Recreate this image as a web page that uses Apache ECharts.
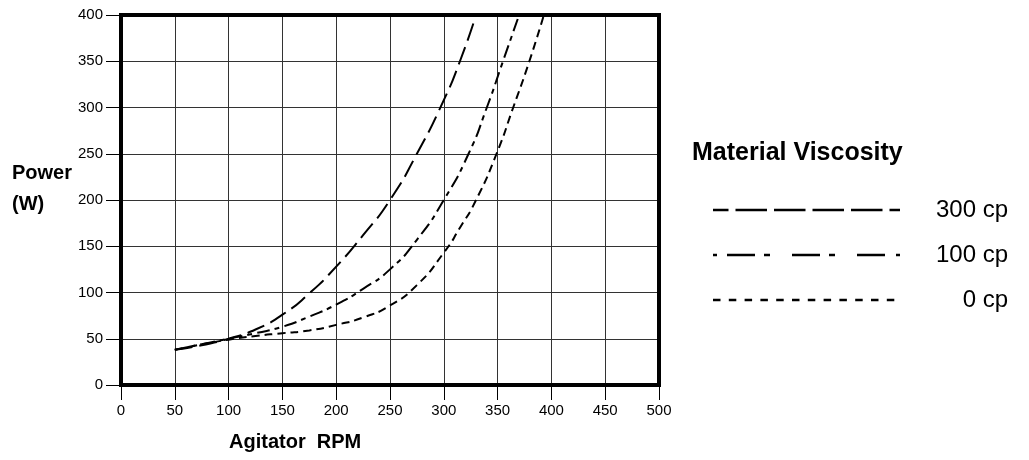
<!DOCTYPE html>
<html>
<head>
<meta charset="utf-8">
<script src="https://cdn.jsdelivr.net/npm/echarts@6/dist/echarts.min.js"></script>
<style>
html,body{margin:0;padding:0;background:#fff;}
#c{width:1029px;height:460px;}
</style>
</head>
<body>
<div id="c"></div>
<script>
// ---- data ----
const xTicks = [0, 50, 100, 150, 200, 250, 300, 350, 400, 450, 500];
const yTicks = [0, 50, 100, 150, 200, 250, 300, 350, 400];

const rpm300 = [50, 75, 100, 125, 150, 175, 200, 225, 250, 275, 300, 315, 330];
const pow300 = [38, 43, 50, 60, 76, 99, 128, 162, 200, 250, 308, 350, 400];

const rpm100 = [50, 75, 100, 125, 150, 175, 200, 225, 250, 275, 300, 323, 340, 355, 370];
const pow100 = [38, 44, 50, 56, 63, 74, 87, 104, 125, 157, 200, 250, 300, 350, 400];

const rpm0 = [50, 75, 100, 125, 150, 175, 200, 225, 250, 275, 300, 315, 330, 349, 364.5, 379.5, 393];
const pow0 = [38, 44, 49, 53, 56, 59, 65, 73, 86, 108, 143, 170, 200, 250, 300, 350, 400];

const seriesNames = ['300 cp', '100 cp', '0 cp'];
const legendTitle = 'Material Viscosity';
const xTitle = 'Agitator  RPM';
const yTitle = ['Power', '(W)'];

const dashes = [[18, 7], [13, 5, 5, 5], [8, 5]];

function pairs(xs, ys) { return xs.map((x, i) => [x, ys[i]]); }

const chart = echarts.init(document.getElementById('c'), null, {renderer: 'canvas'});
const FONT = 'Liberation Sans, Arial, Helvetica, sans-serif';

const lineSeries = [pairs(rpm300, pow300), pairs(rpm100, pow100), pairs(rpm0, pow0)].map((d, i) => ({
  name: seriesNames[i],
  type: 'line',
  data: d,
  smooth: 0.6,
  symbol: 'none',
  z: 5,
  lineStyle: {color: '#000', width: 2, type: dashes[i], cap: 'butt'}
}));

chart.setOption({
  animation: false,
  backgroundColor: '#fff',
  grid: {left: 121, right: 370, top: 15, bottom: 75, containLabel: false},
  xAxis: {
    type: 'value', min: 0, max: 500, interval: 50,
    axisLine: {show: false},
    axisTick: {show: true, length: 15, lineStyle: {color: '#000', width: 1}},
    axisLabel: {color: '#000', fontSize: 15, fontFamily: FONT, margin: 18},
    splitLine: {show: true, lineStyle: {color: '#333', width: 1}}
  },
  yAxis: {
    type: 'value', min: 0, max: 400, interval: 50,
    axisLine: {show: false},
    axisTick: {show: true, length: 15, lineStyle: {color: '#000', width: 1}},
    axisLabel: {color: '#000', fontSize: 15, fontFamily: FONT, margin: 18},
    splitLine: {show: true, lineStyle: {color: '#333', width: 1}}
  },
  series: lineSeries
});

// frame and text
const p0 = chart.convertToPixel({gridIndex: 0}, [0, 0]);
const p1 = chart.convertToPixel({gridIndex: 0}, [500, 400]);
const graphics = [];
graphics.push({
  type: 'rect', z: 100,
  shape: {x: p0[0], y: p1[1], width: p1[0] - p0[0], height: p0[1] - p1[1]},
  style: {fill: 'none', stroke: '#000', lineWidth: 4}
});
graphics.push({
  type: 'text', left: 229, top: 432, z: 100,
  style: {text: xTitle, font: 'bold 20px ' + FONT, fill: '#000'}
});
graphics.push({
  type: 'text', left: 12, top: 163, z: 100,
  style: {text: yTitle[0], font: 'bold 20px ' + FONT, fill: '#000'}
});
graphics.push({
  type: 'text', left: 12, top: 194, z: 100,
  style: {text: yTitle[1], font: 'bold 20px ' + FONT, fill: '#000'}
});
graphics.push({
  type: 'text', left: 692, top: 141, z: 100,
  style: {text: legendTitle, font: 'bold 25px ' + FONT, fill: '#000'}
});
const legendY = [210, 255, 300];
function lseg(x1, x2, y, dash, off) {
  graphics.push({
    type: 'line', z: 100,
    shape: {x1: x1, y1: y, x2: x2, y2: y},
    style: {stroke: '#000', lineWidth: 2.5, lineDash: dash, lineDashOffset: off || 0, lineCap: 'butt'}
  });
}
// 300 cp legend
lseg(713, 900, legendY[0], [31.5, 7], 16);
// 100 cp legend
lseg(713, 717, legendY[1], null);
lseg(727, 886, legendY[1], [28, 9, 6, 22], 0);
lseg(896, 900, legendY[1], null);
// 0 cp legend
lseg(713, 900, legendY[2], [7.5, 8.3], 0);
seriesNames.forEach((n, i) => {
  graphics.push({
    type: 'text', z: 100,
    x: 1008, y: legendY[i],
    style: {text: n, font: '24px ' + FONT, fill: '#000', align: 'right', verticalAlign: 'middle'}
  });
});
chart.setOption({graphic: graphics});
</script>
</body>
</html>
